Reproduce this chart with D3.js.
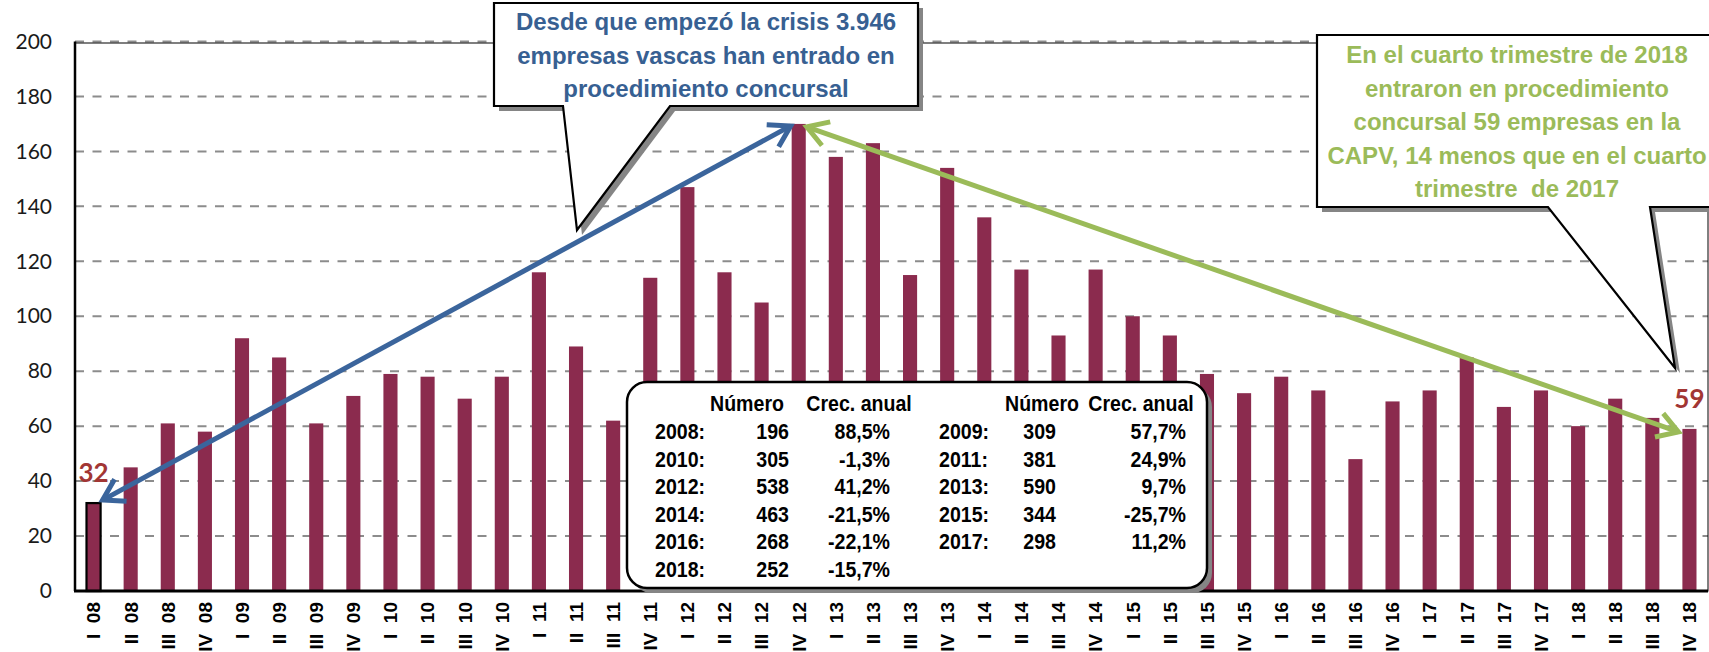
<!DOCTYPE html>
<html>
<head>
<meta charset="utf-8">
<script src="https://cdn.jsdelivr.net/npm/d3@7"></script>
<style>
  html, body { margin: 0; padding: 0; background: #fff; }
  svg { display: block; }
</style>
</head>
<body>
<svg id="chart" width="1709" height="652"></svg>
<script>
// Empresas vascas en procedimiento concursal, por trimestre
const periods = [
  'I 08', 'II 08', 'III 08', 'IV 08', 'I 09', 'II 09', 'III 09', 'IV 09',
  'I 10', 'II 10', 'III 10', 'IV 10', 'I 11', 'II 11', 'III 11', 'IV 11',
  'I 12', 'II 12', 'III 12', 'IV 12', 'I 13', 'II 13', 'III 13', 'IV 13',
  'I 14', 'II 14', 'III 14', 'IV 14', 'I 15', 'II 15', 'III 15', 'IV 15',
  'I 16', 'II 16', 'III 16', 'IV 16', 'I 17', 'II 17', 'III 17', 'IV 17',
  'I 18', 'II 18', 'III 18', 'IV 18'
]
const counts = [
  32, 45, 61, 58, 92, 85, 61, 71,
  79, 78, 70, 78, 116, 89, 62, 114,
  147, 116, 105, 170, 158, 163, 115, 154,
  136, 117, 93, 117, 100, 93, 79, 72,
  78, 73, 48, 69, 73, 85, 67, 73,
  60, 70, 63, 59
]
const yTicks = [0, 20, 40, 60, 80, 100, 120, 140, 160, 180, 200]

// resumen anual (recuadro)
const tableYears = [2008, 2009, 2010, 2011, 2012, 2013, 2014, 2015, 2016, 2017, 2018]
const tableTotals = [196, 309, 305, 381, 538, 590, 463, 344, 268, 298, 252]
const tableGrowth = ['88,5%', '57,7%', '-1,3%', '24,9%', '41,2%', '9,7%', '-21,5%', '-25,7%', '-22,1%', '11,2%', '-15,7%']

const blueNote = ['Desde que empezó la crisis 3.946', 'empresas vascas han entrado en', 'procedimiento concursal']
const greenNote = ['En el cuarto trimestre de 2018', 'entraron en procedimiento', 'concursal 59 empresas en la', 'CAPV, 14 menos que en el cuarto', 'trimestre  de 2017']

const BAR = '#8b2b4e'
const BLUE = '#3b659c'
const BLUE_TEXT = '#376092'
const GREEN = '#9bbb59'
const RED = '#a23634'
const SHADOW = '#858585'

const plot = { left: 75, right: 1708, top: 41.5, bottom: 591 }

const svg = d3.select('#chart')

const x = d3.scaleBand()
  .domain(periods)
  .range([plot.left, plot.right])
  .paddingInner(0.62)
  .paddingOuter(0.31)

const y = d3.scaleLinear()
  .domain([0, 200])
  .range([plot.bottom, plot.top])

// grid
svg.append('g')
  .selectAll('line')
  .data(yTicks.filter((t) => t > 0))
  .join('line')
  .attr('x1', plot.left)
  .attr('x2', plot.right)
  .attr('y1', (d) => y(d))
  .attr('y2', (d) => y(d))
  .attr('stroke', '#8c8c8c')
  .attr('stroke-width', 2)
  .attr('stroke-dasharray', '9,8.5')

svg.append('rect')
  .attr('x', plot.left)
  .attr('y', y(200) + 1.5)
  .attr('width', plot.right - plot.left)
  .attr('height', plot.bottom - y(200) - 1.5)
  .attr('fill', 'none')
  .attr('stroke', '#000')
  .attr('stroke-width', 1)

// y axis
const yAxis = svg.append('g')
  .attr('transform', `translate(${plot.left},0)`)
  .call(d3.axisLeft(y).tickValues(yTicks).tickSize(0).tickPadding(23))
yAxis.select('.domain').remove()
yAxis.selectAll('text')
  .attr('font-family', 'Lato, "Open Sans", sans-serif')
  .attr('font-size', 21)
  .attr('fill', '#1a1a1a')

// bars
svg.append('g')
  .selectAll('rect')
  .data(periods)
  .join('rect')
  .attr('x', (d) => x(d))
  .attr('y', (d, i) => y(counts[i]))
  .attr('width', x.bandwidth())
  .attr('height', (d, i) => y(0) - y(counts[i]))
  .attr('fill', BAR)
  .attr('stroke', (d, i) => (i === 0 ? '#000' : 'none'))
  .attr('stroke-width', 2.2)

// axes lines
svg.append('line')
  .attr('x1', plot.left).attr('x2', plot.left)
  .attr('y1', y(200)).attr('y2', plot.bottom)
  .attr('stroke', '#000').attr('stroke-width', 2.5)
svg.append('line')
  .attr('x1', plot.left - 1).attr('x2', plot.right)
  .attr('y1', plot.bottom).attr('y2', plot.bottom)
  .attr('stroke', '#000').attr('stroke-width', 3)

// x labels, rotated
const xAxis = svg.append('g')
  .attr('transform', `translate(0,${plot.bottom})`)
  .call(d3.axisBottom(x).tickSize(0).tickPadding(0))
xAxis.select('.domain').remove()
xAxis.selectAll('text')
  .text((d) => d.replace(' ', '\u00a0\u00a0'))
  .attr('font-family', '"Liberation Sans", Arial, sans-serif')
  .attr('font-weight', 'bold')
  .attr('font-size', 19)
  .attr('fill', '#000')
  .attr('text-anchor', 'end')
  .attr('transform', 'translate(0,11) rotate(-90)')
  .attr('x', 0)
  .attr('y', 0)
  .attr('dy', '0.36em')

// annual summary box
const box = { x: 627, y: 382, w: 580, h: 206, r: 20 }
svg.append('rect')
  .attr('x', box.x + 5).attr('y', box.y + 5)
  .attr('width', box.w).attr('height', box.h)
  .attr('rx', box.r)
  .attr('fill', SHADOW)
svg.append('rect')
  .attr('x', box.x).attr('y', box.y)
  .attr('width', box.w).attr('height', box.h)
  .attr('rx', box.r)
  .attr('fill', '#fff')
  .attr('stroke', '#000')
  .attr('stroke-width', 2.5)

const tableG = svg.append('g')
  .attr('font-family', '"Liberation Sans", Arial, sans-serif')
  .attr('font-weight', 'bold')
  .attr('font-size', 22)
  .attr('fill', '#000')

const narrowText = (tx, ty, str, anchor) => {
  tableG.append('text')
    .attr('transform', `translate(${tx},${ty}) scale(0.89,1)`)
    .attr('text-anchor', anchor)
    .text(str)
}

// columns: [year start, number end, growth end]
const cols = [
  { year: 655, num: 789, pct: 890, head1: 747, head2: 859 },
  { year: 939, num: 1056, pct: 1186, head1: 1042, head2: 1141 }
]
const headY = 411
const rowY = (r) => 439 + r * 27.5

cols.forEach((c) => {
  narrowText(c.head1, headY, 'Número', 'middle')
  narrowText(c.head2, headY, 'Crec. anual', 'middle')
})
tableYears.forEach((yr, i) => {
  const c = cols[i % 2]
  const ty = rowY(Math.floor(i / 2))
  narrowText(c.year, ty, `${yr}:`, 'start')
  narrowText(c.num, ty, String(tableTotals[i]), 'end')
  narrowText(c.pct, ty, tableGrowth[i], 'end')
})

// double headed arrows
const arrowHead = (g, tip, from, color) => {
  const ang = Math.atan2(tip[1] - from[1], tip[0] - from[0])
  const len = 24
  const spread = 0.55
  const a1 = [tip[0] - len * Math.cos(ang - spread), tip[1] - len * Math.sin(ang - spread)]
  const a2 = [tip[0] - len * Math.cos(ang + spread), tip[1] - len * Math.sin(ang + spread)]
  g.append('path')
    .attr('d', d3.line()([a1, tip, a2]))
    .attr('fill', 'none')
    .attr('stroke', color)
    .attr('stroke-width', 5)
    .attr('stroke-linejoin', 'miter')
}

const drawArrow = (p1, p2, color) => {
  const g = svg.append('g')
  g.append('line')
    .attr('x1', p1[0]).attr('y1', p1[1])
    .attr('x2', p2[0]).attr('y2', p2[1])
    .attr('stroke', color)
    .attr('stroke-width', 5)
  arrowHead(g, p1, p2, color)
  arrowHead(g, p2, p1, color)
}

const iStart = 0
const iPeak = counts.indexOf(d3.max(counts))
const iLast = counts.length - 1
const bw = x.bandwidth()

drawArrow(
  [x(periods[iStart]) + bw + 2, y(counts[iStart]) - 3],
  [x(periods[iPeak]) - 1, y(counts[iPeak]) + 2],
  BLUE
)
drawArrow(
  [x(periods[iPeak]) + bw + 1, y(counts[iPeak]) + 3],
  [x(periods[iLast]) - 4, y(counts[iLast]) + 3],
  GREEN
)

// callouts
const callout = (pts, lines, color, cx, firstBase) => {
  const g = svg.append('g')
  g.append('polygon')
    .attr('points', pts.map((p) => [p[0] + 5, p[1] + 5].join(',')).join(' '))
    .attr('fill', SHADOW)
  g.append('polygon')
    .attr('points', pts.map((p) => p.join(',')).join(' '))
    .attr('fill', '#fff')
    .attr('stroke', '#000')
    .attr('stroke-width', 2.2)
  g.selectAll('text')
    .data(lines)
    .join('text')
    .attr('x', cx)
    .attr('y', (d, i) => firstBase + i * 33.5)
    .attr('text-anchor', 'middle')
    .style('white-space', 'pre')
    .attr('font-family', '"Liberation Sans", Arial, sans-serif')
    .attr('font-weight', 'bold')
    .attr('font-size', 24)
    .attr('fill', color)
    .text((d) => d)
}

callout(
  [[494, 3], [918, 3], [918, 106], [670, 106], [577, 230], [563, 106], [494, 106]],
  blueNote, BLUE_TEXT, 706, 30
)
callout(
  [[1317, 35], [1725, 35], [1725, 207], [1650, 207], [1675, 368], [1548, 207], [1317, 207]],
  greenNote, GREEN, 1517, 63
)

// first and last values
const valueLabel = (i) => {
  svg.append('text')
    .attr('x', x(periods[i]) + bw / 2)
    .attr('y', y(counts[i]) - 21)
    .attr('text-anchor', 'middle')
    .attr('font-family', 'Lato, sans-serif')
    .attr('font-weight', 'bold')
    .attr('font-size', 26)
    .attr('fill', RED)
    .text(counts[i])
}
valueLabel(iStart)
valueLabel(iLast)
</script>
</body>
</html>
